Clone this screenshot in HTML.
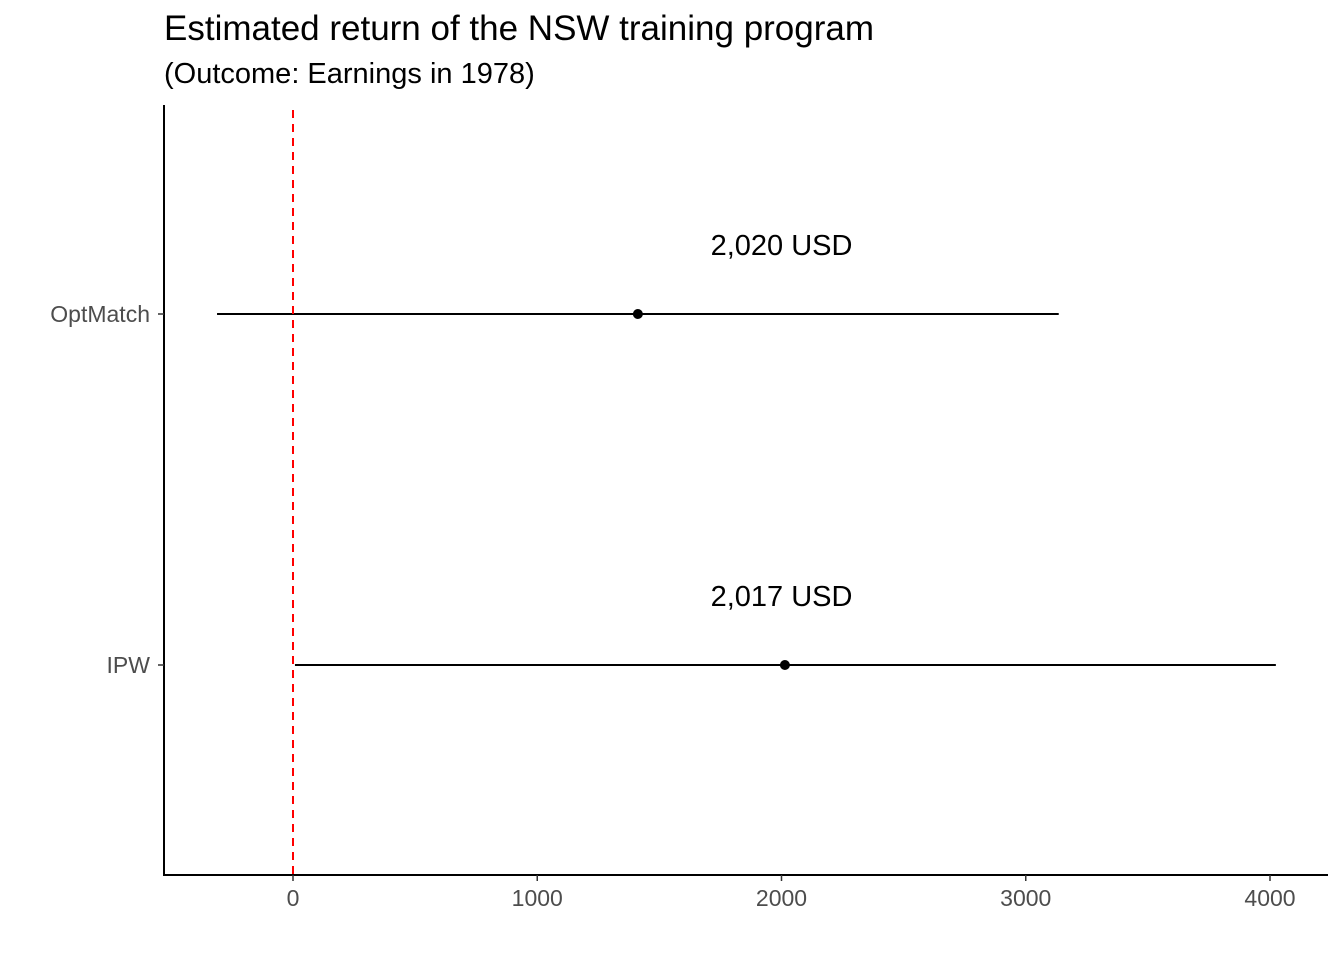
<!DOCTYPE html>
<html><head><meta charset="utf-8"><style>
body{margin:0;background:#fff;}
svg{display:block;font-family:"Liberation Sans",Arial,sans-serif;}
</style></head><body>
<svg id="chart" width="1344" height="960">
<text x="164" y="40" font-size="35" fill="#000">Estimated return of the NSW training program</text>
<text x="164" y="83" font-size="29" fill="#000">(Outcome: Earnings in 1978)</text>
<g id="plot"></g>
</svg>
<script>
const categories = ["OptMatch","IPW"];
const estimates = [1412, 2014];
const lowers = [-311, 8];
const uppers = [3135, 4024];
const labels = ["2,020 USD","2,017 USD"];
const labelX = [2000, 2000];
const xTicks = [0,1000,2000,3000,4000];

const NS="http://www.w3.org/2000/svg";
const g=document.getElementById('plot');
const x=v=>293+v*0.24425;
const yPos=[314,665];
const y=i=>yPos[i];
function mk(t,a){const e=document.createElementNS(NS,t);for(const k in a)e.setAttribute(k,a[k]);g.appendChild(e);return e;}
let e;
e=mk('line',{x1:164,y1:105,x2:164,y2:876,stroke:'#000','stroke-width':2});


e=mk('line',{x1:163,y1:875,x2:1328,y2:875,stroke:'#000','stroke-width':2});


xTicks.forEach(t=>{
 e=mk('line',{x1:x(t),y1:875,x2:x(t),y2:881,stroke:'#333','stroke-width':1.5});
 
 
 e=mk('text',{x:x(t),y:906,'font-size':23,fill:'#4d4d4d','text-anchor':'middle'});
 e.textContent=t;
 
 
});
categories.forEach((c,i)=>{
 e=mk('line',{x1:158,y1:y(i),x2:164,y2:y(i),stroke:'#333','stroke-width':1.5});
 
 
 e=mk('text',{x:150,y:y(i)+8,'font-size':23,fill:'#4d4d4d','text-anchor':'end'});
 e.textContent=c;
 
 
 e=mk('line',{x1:x(lowers[i]),y1:y(i),x2:x(uppers[i]),y2:y(i),stroke:'#000','stroke-width':2});
 
 
 e=mk('circle',{cx:x(estimates[i]),cy:y(i),r:5,fill:'#000'});
 
 
 e=mk('text',{x:x(labelX[i]),y:y(i)-59,'font-size':29,fill:'#000','text-anchor':'middle'});
 e.textContent=labels[i];
 
 
});
e=mk('line',{x1:x(0),y1:110,x2:x(0),y2:875,stroke:'#ff0000','stroke-width':2,'stroke-dasharray':'8,6'});


</script>
</body></html>
